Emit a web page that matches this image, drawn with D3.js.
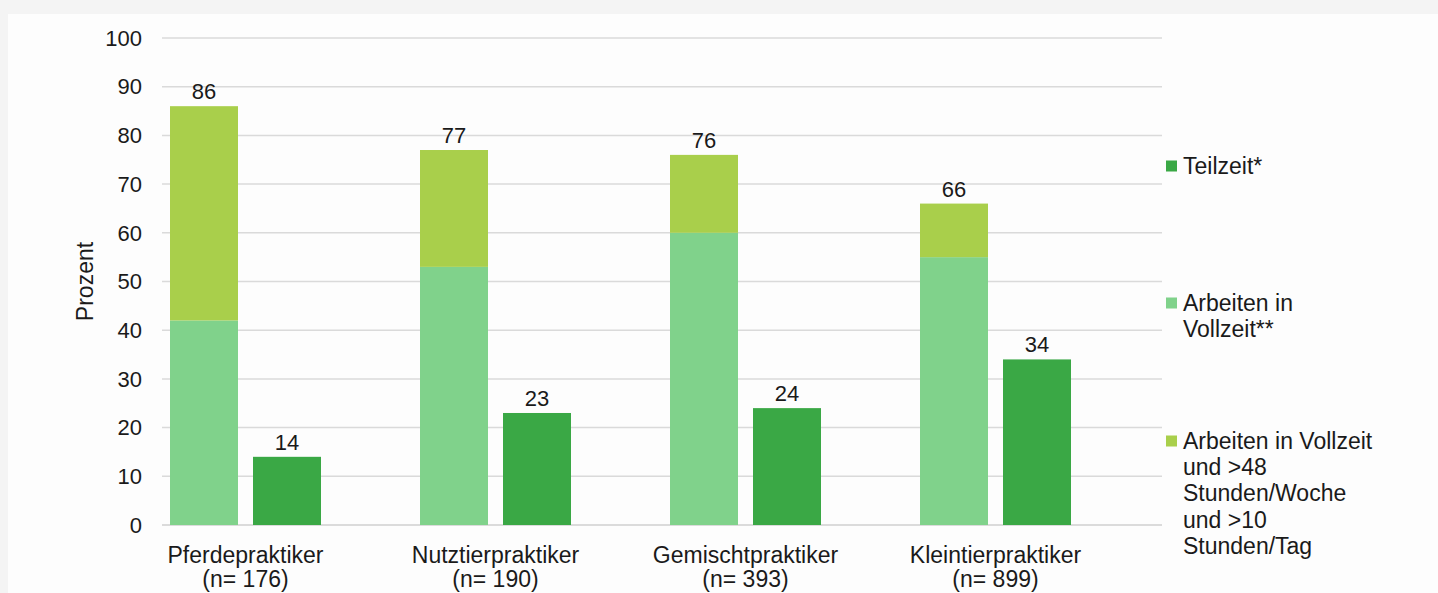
<!DOCTYPE html>
<html>
<head>
<meta charset="utf-8">
<script src="https://cdn.jsdelivr.net/npm/d3@7"></script>
<style>
  html, body { margin: 0; padding: 0; background: #f4f4f4; }
  svg { display: block; }
  text { font-family: "Liberation Sans", Arial, sans-serif; fill: #1a1a1a; }
</style>
</head>
<body>
<svg id="chart" width="1438" height="593"></svg>
<script>
// Arbeitszeit nach Praxistyp (Prozent)
const categories = ["Pferdepraktiker", "Nutztierpraktiker", "Gemischtpraktiker", "Kleintierpraktiker"];
const sampleSizes = ["(n= 176)", "(n= 190)", "(n= 393)", "(n= 899)"];
const vollzeit = [42, 53, 60, 55];          // Arbeiten in Vollzeit**
const vollzeitLang = [44, 24, 16, 11];      // zusätzlich >48 h/Woche und >10 h/Tag
const vollzeitGesamt = [86, 77, 76, 66];    // Summe der gestapelten Säule
const teilzeit = [14, 23, 24, 34];          // Teilzeit*
const yTicks = [0, 10, 20, 30, 40, 50, 60, 70, 80, 90, 100];

const legendItems = [
  { key: "teil", lines: ["Teilzeit*"] },
  { key: "voll", lines: ["Arbeiten in", "Vollzeit**"] },
  { key: "lang", lines: ["Arbeiten in Vollzeit", "und >48", "Stunden/Woche", "und >10", "Stunden/Tag"] }
];

const colors = { voll: "#80d28b", lang: "#a9cf4b", teil: "#3aa845" };
const tickFont = 22;
const labelFont = 23;

const svg = d3.select("#chart");

// Hintergrundkarte
svg.append("rect").attr("x", 8).attr("y", 14).attr("width", 1430).attr("height", 579).attr("fill", "#fdfdfd");

const plot = { left: 162, right: 1162, top: 38, bottom: 525 };

const y = d3.scaleLinear().domain([0, 100]).range([plot.bottom, plot.top]);
const x0 = d3.scaleBand().domain(categories).range([120.5, 1120.5]).paddingInner(0).paddingOuter(0);
const x1 = d3.scaleBand().domain(["stack", "teil"]).range([0, x0.bandwidth()])
  .paddingInner(15 / 83).paddingOuter(99 / 166);

// Gitternetzlinien
svg.append("g").selectAll("line").data(yTicks).join("line")
  .attr("x1", plot.left).attr("x2", plot.right)
  .attr("y1", d => y(d)).attr("y2", d => y(d))
  .attr("stroke", d => d === 0 ? "#cfcfcf" : "#dadada")
  .attr("stroke-width", 1.5);

// Y-Achse Beschriftung
svg.append("g").selectAll("text").data(yTicks).join("text")
  .attr("x", 142).attr("y", d => y(d)).attr("dy", "0.35em")
  .attr("text-anchor", "end").attr("font-size", tickFont)
  .text(d => d);

svg.append("text")
  .attr("transform", `translate(93,${(plot.top + plot.bottom) / 2}) rotate(-90)`)
  .attr("text-anchor", "middle").attr("font-size", 23)
  .text("Prozent");

const groups = svg.append("g").selectAll("g").data(categories).join("g")
  .attr("transform", d => `translate(${x0(d)},0)`);

// Gestapelte Vollzeit-Säule
groups.append("rect")
  .attr("x", x1("stack")).attr("width", x1.bandwidth())
  .attr("y", (d, i) => y(vollzeit[i])).attr("height", (d, i) => y(0) - y(vollzeit[i]))
  .attr("fill", colors.voll);
groups.append("rect")
  .attr("x", x1("stack")).attr("width", x1.bandwidth())
  .attr("y", (d, i) => y(vollzeit[i] + vollzeitLang[i]))
  .attr("height", (d, i) => y(vollzeit[i]) - y(vollzeit[i] + vollzeitLang[i]))
  .attr("fill", colors.lang);
groups.append("text")
  .attr("x", x1("stack") + x1.bandwidth() / 2)
  .attr("y", (d, i) => y(vollzeitGesamt[i]) - 7)
  .attr("text-anchor", "middle").attr("font-size", tickFont)
  .text((d, i) => vollzeitGesamt[i]);

// Teilzeit-Säule
groups.append("rect")
  .attr("x", x1("teil")).attr("width", x1.bandwidth())
  .attr("y", (d, i) => y(teilzeit[i])).attr("height", (d, i) => y(0) - y(teilzeit[i]))
  .attr("fill", colors.teil);
groups.append("text")
  .attr("x", x1("teil") + x1.bandwidth() / 2)
  .attr("y", (d, i) => y(teilzeit[i]) - 7)
  .attr("text-anchor", "middle").attr("font-size", tickFont)
  .text((d, i) => teilzeit[i]);

// Kategorienbeschriftung
groups.append("text")
  .attr("x", x0.bandwidth() / 2).attr("y", 563)
  .attr("text-anchor", "middle").attr("font-size", labelFont)
  .text(d => d);
groups.append("text")
  .attr("x", x0.bandwidth() / 2).attr("y", 587)
  .attr("text-anchor", "middle").attr("font-size", labelFont)
  .text((d, i) => sampleSizes[i]);

// Legende
const legendTop = [166, 303, 441];
const legend = svg.append("g").selectAll("g").data(legendItems).join("g")
  .attr("transform", (d, i) => `translate(1166,${legendTop[i]})`);
legend.append("rect")
  .attr("x", 0).attr("y", -5.5).attr("width", 11).attr("height", 11)
  .attr("fill", d => colors[d.key]);
legend.each(function (d) {
  const t = d3.select(this).append("text")
    .attr("x", 17).attr("y", 0).attr("font-size", labelFont);
  d.lines.forEach((line, j) => {
    t.append("tspan").attr("x", 17).attr("y", j * 26.4).attr("dy", "0.33em").text(line);
  });
});
</script>
</body>
</html>
